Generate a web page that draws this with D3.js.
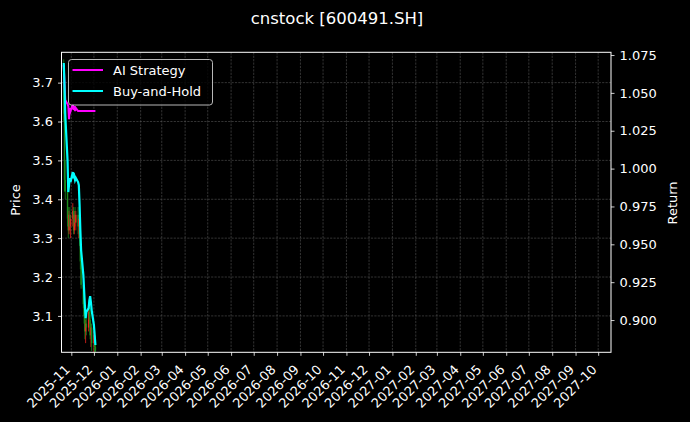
<!DOCTYPE html>
<html>
<head>
<meta charset="utf-8">
<script src="https://cdn.jsdelivr.net/npm/d3@7"></script>
<style>
    html, body { margin: 0; padding: 0; background: #000; }
    svg { display: block; font-family: "DejaVu Sans", sans-serif; }
</style>
</head>
<body>
<div id="chart"></div>
<script>
// trading days shown in the chart
const dates = [
    "2025-10-22", "2025-10-23", "2025-10-24", "2025-10-27", "2025-10-28", "2025-10-29", "2025-10-30", "2025-10-31",
    "2025-11-03", "2025-11-04", "2025-11-05", "2025-11-06", "2025-11-07",
    "2025-11-10", "2025-11-11", "2025-11-12", "2025-11-13", "2025-11-14",
    "2025-11-17", "2025-11-18", "2025-11-19", "2025-11-20", "2025-11-21",
    "2025-11-24", "2025-11-25", "2025-11-26", "2025-11-27", "2025-11-28",
    "2025-12-01", "2025-12-02", "2025-12-03"
];
const openPrice  = [3.74, 3.62, 3.45, 3.42, 3.35, 3.32, 3.36, 3.33, 3.35, 3.37, 3.32, 3.36, 3.34, 3.36, 3.33, 3.35, 3.30, 3.24, 3.18, 3.13, 3.10, 3.06, 3.08, 3.07, 3.11, 3.09, 3.05, 3.07, 3.03, 3.05, 3.02];
const highPrice  = [3.76, 3.64, 3.50, 3.44, 3.38, 3.37, 3.38, 3.36, 3.39, 3.38, 3.37, 3.38, 3.37, 3.38, 3.36, 3.36, 3.31, 3.25, 3.19, 3.14, 3.11, 3.09, 3.10, 3.12, 3.13, 3.12, 3.08, 3.08, 3.06, 3.06, 3.04];
const lowPrice   = [3.60, 3.42, 3.40, 3.33, 3.30, 3.31, 3.32, 3.30, 3.33, 3.31, 3.31, 3.33, 3.32, 3.31, 3.30, 3.28, 3.22, 3.17, 3.12, 3.08, 3.04, 3.03, 3.05, 3.06, 3.08, 3.04, 3.02, 3.01, 3.00, 3.00, 2.99];
const closePrice = [3.62, 3.45, 3.42, 3.35, 3.32, 3.36, 3.33, 3.35, 3.37, 3.32, 3.36, 3.34, 3.36, 3.33, 3.35, 3.30, 3.24, 3.18, 3.13, 3.10, 3.06, 3.08, 3.07, 3.11, 3.09, 3.05, 3.07, 3.03, 3.05, 3.02, 3.01];

const aiReturn = [1.0684, 1.0552, 1.0453, 1.0426, 1.0413, 1.0327, 1.0400, 1.0380, 1.0426, 1.0387, 1.0413, 1.0380, 1.0400, 1.0380, 1.0380, 1.0380, 1.0380, 1.0380, 1.0380, 1.0380, 1.0380, 1.0380, 1.0380, 1.0380, 1.0380, 1.0380, 1.0380, 1.0380, 1.0380, 1.0380, 1.0380];
const bhReturn = [1.0697, 1.0552, 1.0354, 1.0056, 0.9845, 0.9891, 0.9938, 0.9911, 0.9977, 0.9938, 0.9951, 0.9924, 0.9938, 0.9911, 0.9891, 0.9759, 0.9594, 0.9462, 0.9297, 0.9197, 0.9098, 0.9013, 0.9053, 0.9079, 0.9132, 0.9158, 0.9119, 0.9066, 0.8967, 0.8901, 0.8835];

const monthTicks = [
    "2025-11", "2025-12", "2026-01", "2026-02", "2026-03", "2026-04", "2026-05", "2026-06",
    "2026-07", "2026-08", "2026-09", "2026-10", "2026-11", "2026-12", "2027-01", "2027-02",
    "2027-03", "2027-04", "2027-05", "2027-06", "2027-07", "2027-08", "2027-09", "2027-10"
];
const priceTicks = [3.1, 3.2, 3.3, 3.4, 3.5, 3.6, 3.7];
const returnTicks = [0.900, 0.925, 0.950, 0.975, 1.000, 1.025, 1.050, 1.075];

const seriesNames = ["AI Strategy", "Buy-and-Hold"];
const seriesColors = ["#ff00ff", "#00ffff"];

const W = 690, H = 422;
const margin = { top: 52.3, right: 79, bottom: 69.7, left: 61.5 };
const width = W - margin.left - margin.right,
    height = H - margin.top - margin.bottom;

const parseDay = d3.timeParse("%Y-%m-%d");
const parseMonth = d3.timeParse("%Y-%m");

const svg = d3.select("#chart").append("svg")
    .attr("width", W)
    .attr("height", H)
    .style("background", "#000");

svg.append("text")
    .attr("x", 337)
    .attr("y", 24)
    .attr("text-anchor", "middle")
    .attr("fill", "#fff")
    .style("font-size", "16.5px")
    .text("cnstock [600491.SH]");

const g = svg.append("g")
    .attr("transform", `translate(${margin.left},${margin.top})`);

const x = d3.scaleTime()
    .domain([parseDay("2025-10-19"), parseDay("2027-10-18")])
    .range([0, width]);
const yPrice = d3.scaleLinear().domain([3.0064, 3.778]).range([height, 0]);
const yRet = d3.scaleLinear().domain([0.8787, 1.0768]).range([height, 0]);

g.append("defs").append("clipPath").attr("id", "plotclip")
    .append("rect").attr("width", width).attr("height", height);

// grid
const tickDates = monthTicks.map(parseMonth);
g.append("g")
    .selectAll("line")
    .data(tickDates)
    .join("line")
    .attr("x1", d => x(d)).attr("x2", d => x(d))
    .attr("y1", 0).attr("y2", height)
    .attr("stroke", "#555")
    .attr("stroke-width", 0.6)
    .attr("stroke-dasharray", "2.2,1.2");
g.append("g")
    .selectAll("line")
    .data(priceTicks)
    .join("line")
    .attr("x1", 0).attr("x2", width)
    .attr("y1", d => yPrice(d)).attr("y2", d => yPrice(d))
    .attr("stroke", "#555")
    .attr("stroke-width", 0.6)
    .attr("stroke-dasharray", "2.2,1.2");

// candles
const candles = dates.map((d, i) => ({
    date: parseDay(d), open: openPrice[i], high: highPrice[i], low: lowPrice[i], close: closePrice[i]
}));
const plot = g.append("g").attr("clip-path", "url(#plotclip)");
const candleColor = d => d.close >= d.open ? "#e8251d" : "#1c8c1c";

plot.selectAll(".wick")
    .data(candles)
    .join("line")
    .attr("class", "wick")
    .attr("x1", d => x(d.date)).attr("x2", d => x(d.date))
    .attr("y1", d => yPrice(d.high)).attr("y2", d => yPrice(d.low))
    .attr("stroke", candleColor)
    .attr("stroke-width", 0.8);

plot.selectAll(".body")
    .data(candles)
    .join("rect")
    .attr("class", "body")
    .attr("x", d => x(d.date) - 0.7)
    .attr("width", 1.4)
    .attr("y", d => yPrice(Math.max(d.open, d.close)))
    .attr("height", d => Math.max(0.5, Math.abs(yPrice(d.open) - yPrice(d.close))))
    .attr("fill", candleColor);

// return lines
const returnLine = d3.line()
    .x((d, i) => x(parseDay(dates[i])))
    .y(d => yRet(d));

plot.append("path")
    .datum(aiReturn)
    .attr("d", returnLine)
    .attr("fill", "none")
    .attr("stroke", seriesColors[0])
    .attr("stroke-width", 2);

plot.append("path")
    .datum(bhReturn)
    .attr("d", returnLine)
    .attr("fill", "none")
    .attr("stroke", seriesColors[1])
    .attr("stroke-width", 2.2);

// axes
const styleAxis = sel => {
    sel.select(".domain").remove();
    sel.selectAll(".tick line").attr("stroke", "#fff").attr("stroke-width", 0.8);
    sel.selectAll(".tick text").attr("fill", "#fff").style("font-size", "13px")
        .style("font-family", "DejaVu Sans, sans-serif");
};

g.append("g")
    .attr("transform", `translate(0,${height})`)
    .call(d3.axisBottom(x).tickValues(tickDates).tickSize(3.5).tickFormat((d, i) => monthTicks[i]))
    .call(styleAxis)
    .call(s => s.selectAll(".tick text")
        .attr("text-anchor", "end")
        .attr("dy", null)
        .attr("y", 0)
        .attr("transform", "translate(-1,18) rotate(-45)"));

g.append("g")
    .call(d3.axisLeft(yPrice).tickValues(priceTicks).tickSize(3.5).tickPadding(5).tickFormat(d3.format(".1f")))
    .call(styleAxis);

g.append("g")
    .attr("transform", `translate(${width},0)`)
    .call(d3.axisRight(yRet).tickValues(returnTicks).tickSize(3.5).tickPadding(5).tickFormat(d3.format(".3f")))
    .call(styleAxis);

// frame
g.append("rect")
    .attr("width", width).attr("height", height)
    .attr("fill", "none")
    .attr("stroke", "#fff")
    .attr("stroke-width", 1);

// axis titles
svg.append("text")
    .attr("transform", `translate(20,200) rotate(-90)`)
    .attr("text-anchor", "middle")
    .attr("fill", "#fff")
    .style("font-size", "13px")
    .text("Price");

svg.append("text")
    .attr("transform", `translate(677,203) rotate(-90)`)
    .attr("text-anchor", "middle")
    .attr("fill", "#fff")
    .style("font-size", "13px")
    .text("Return");

// legend
const legend = svg.append("g").attr("transform", "translate(68.5,59.5)");
legend.append("rect")
    .attr("width", 144).attr("height", 45.5)
    .attr("rx", 3)
    .attr("fill", "rgba(0,0,0,0.8)")
    .attr("stroke", "#ccc")
    .attr("stroke-width", 0.9);

seriesNames.forEach((name, i) => {
    const ly = 10.5 + i * 21;
    legend.append("line")
        .attr("x1", 4).attr("x2", 34.5)
        .attr("y1", ly).attr("y2", ly)
        .attr("stroke", seriesColors[i])
        .attr("stroke-width", 2);
    legend.append("text")
        .attr("x", 44.5)
        .attr("y", ly + 4.6)
        .attr("fill", "#fff")
        .style("font-size", "13px")
        .text(name);
});
</script>
</body>
</html>
